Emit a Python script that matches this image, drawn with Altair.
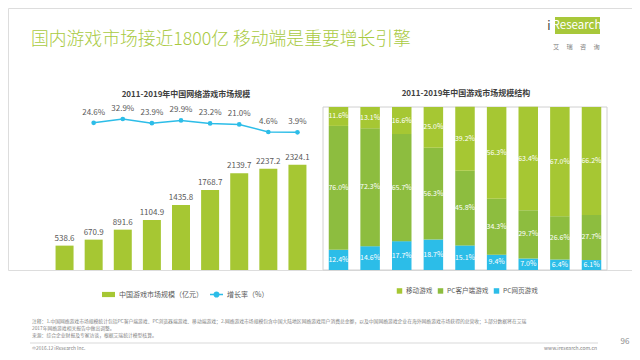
import altair as alt
import pandas as pd

# ---------------- data ----------------
years = ["2011", "2012", "2013", "2014", "2015", "2016e", "2017e", "2018e", "2019e"]
market_size = [538.6, 670.9, 891.6, 1104.9, 1435.8, 1768.7, 2139.7, 2237.2, 2324.1]
growth_years = ["2012", "2013", "2014", "2015", "2016e", "2017e", "2018e", "2019e"]
growth_rate = [24.6, 32.9, 23.9, 29.9, 23.2, 21.0, 4.6, 3.9]
mobile_share = [11.6, 13.1, 16.6, 25.0, 39.2, 56.3, 63.4, 67.0, 66.2]
pc_client_share = [76.0, 72.3, 65.7, 56.3, 45.8, 34.3, 29.7, 26.6, 27.7]
pc_web_share = [12.4, 14.6, 17.7, 18.7, 15.1, 9.4, 7.0, 6.4, 6.1]

size_name = "中国游戏市场规模（亿元）"
growth_name = "增长率（%）"
share_names = ["移动游戏", "PC客户端游戏", "PC网页游戏"]

main_title = "国内游戏市场接近1800亿 移动端是重要增长引擎"
left_title = "2011-2019年中国网络游戏市场规模"
right_title = "2011-2019年中国游戏市场规模结构"
notes = [
    "注释：1.中国网络游戏市场规模统计包括PC客户端游戏、PC浏览器端游戏、移动端游戏；2.网络游戏市场规模包含中国大陆地区网络游戏用户消费总金额，以及中国网络游戏企业在海外网络游戏市场获得的总营收；3.部分数据将在艾瑞",
    "2017年网络游戏相关报告中做出调整。",
    "来源：综合企业财报及专家访谈，根据艾瑞统计模型核算。",
]
copyright_text = "©2016.12 iResearch Inc."
site_text = "www.iresearch.com.cn"
page_no = "96"
logo_cn_chars = ["艾", "瑞", "咨", "询"]

FONT = "Noto Sans CJK SC"
GREEN = "#a9ca3f"
BAR_GREEN = "#a6c733"
CLIENT_GREEN = "#8dbd3f"
CYAN = "#2cbde8"
GREY = "#595959"

# ---------------- tables ----------------
size_df = pd.DataFrame({"year": years, "value": market_size, "series": size_name})
size_df["label"] = [f"{v:.1f}" for v in market_size]
growth_df = pd.DataFrame({"year": growth_years, "rate": growth_rate, "series": growth_name})
growth_df["label"] = [f"{v:.1f}%" for v in growth_rate]

rows = []
for i, y in enumerate(years):
    for order, (name, vals) in enumerate(
        [("PC网页游戏", pc_web_share), ("PC客户端游戏", pc_client_share), ("移动游戏", mobile_share)]
    ):
        rows.append({"year": y, "series": name, "share": vals[i], "order": order, "label": f"{vals[i]:.1f}%"})
share_df = pd.DataFrame(rows)

one = pd.DataFrame({"k": [0]})

# ---------------- left panel ----------------
axis_common = dict(title=None, orient="bottom", labelAngle=0, ticks=False, domainColor="#bfbfbf",
                   labelColor=GREY, labelFontSize=8, labelPadding=6, labelFont=FONT)

xl_scale = alt.Scale(range=[42, 304], paddingInner=0.38, paddingOuter=0.19)
xl = alt.X("year:N", sort=years, scale=xl_scale, axis=alt.Axis(**axis_common))
xl_noaxis = alt.X("year:N", sort=years, scale=xl_scale, axis=None)

ybar = alt.Y("value:Q", scale=alt.Scale(domain=[0, 5790]), axis=None)

bars = alt.Chart(size_df).mark_bar(size=18).encode(
    x=xl, y=ybar,
    color=alt.Color("series:N", scale=alt.Scale(domain=[size_name], range=[BAR_GREEN]),
                    legend=alt.Legend(title=None, orient="none", legendX=93, legendY=279,
                                      symbolType="M-1,-0.4H1V0.4H-1Z", symbolSize=169,
                                      labelFontSize=7, labelColor=GREY, labelFont=FONT,
                                      labelOffset=3)),
)
bar_text = alt.Chart(size_df).mark_text(baseline="bottom", dy=-3, fontSize=8, color=GREY, font=FONT).encode(
    x=xl_noaxis, y=ybar, text="label:N")

yline = alt.Y("rate:Q", scale=alt.Scale(domain=[-296, 274.7]), axis=None)
line = alt.Chart(growth_df).mark_line(strokeWidth=1.5, point=alt.OverlayMarkDef(size=22, filled=True)).encode(
    x=xl_noaxis, y=yline,
    color=alt.Color("series:N", scale=alt.Scale(domain=[growth_name], range=[CYAN]),
                    legend=alt.Legend(title=None, orient="none", legendX=201, legendY=279,
                                      symbolType="M-1,0H1M0.35,0A0.35,0.35,0,1,1,-0.35,0A0.35,0.35,0,1,1,0.35,0",
                                      symbolSize=169, symbolStrokeWidth=1.5, symbolFillColor=CYAN,
                                      labelFontSize=7, labelColor=GREY, labelFont=FONT, labelOffset=3)),
)
line_text = alt.Chart(growth_df).mark_text(baseline="bottom", dy=-6, fontSize=8, color=GREY, font=FONT).encode(
    x=xl_noaxis, y=yline, text="label:N")

left = alt.layer(bars, bar_text, line, line_text).resolve_scale(y="independent", color="independent")

# ---------------- right panel ----------------
xr_scale = alt.Scale(range=[315, 599], paddingInner=0.38, paddingOuter=0.18)
xr = alt.X("year:N", sort=years, scale=xr_scale, axis=alt.Axis(**axis_common))
yr_scale = alt.Scale(domain=[0, 160.74])

right_base = alt.Chart(share_df).transform_stack(
    stack="share", groupby=["year"], as_=["y0", "y1"], sort=[alt.SortField("order", "ascending")]
).transform_calculate(mid="(datum.y0 + datum.y1) / 2")

rbars = right_base.mark_bar(size=19.5).encode(
    x=xr,
    y=alt.Y("y0:Q", scale=yr_scale, axis=None), y2="y1:Q",
    color=alt.Color("series:N", scale=alt.Scale(domain=share_names, range=[BAR_GREEN, CLIENT_GREEN, CYAN]),
                    legend=alt.Legend(title=None, orient="none", direction="horizontal",
                                      legendX=388, legendY=279, symbolType="square", symbolSize=30,
                                      labelFontSize=6.6, labelColor=GREY, labelFont=FONT,
                                      columnPadding=4, labelOffset=3)),
)
rtext = right_base.mark_text(color="white", fontSize=7, font=FONT).encode(
    x=alt.X("year:N", sort=years, scale=xr_scale, axis=None),
    y=alt.Y("mid:Q", scale=yr_scale, axis=None), text="label:N")

frame = alt.Chart(one).mark_rect(fill="transparent", stroke="#d0d0d0", strokeWidth=1).encode(
    x=alt.value(315), x2=alt.value(599), y=alt.value(99), y2=alt.value(262))

right = alt.layer(frame, rbars, rtext)

# ---------------- decorations ----------------
def txt(text, x, y, size, color, align="left", weight="normal", baseline="middle"):
    return alt.Chart(one).mark_text(text=text, align=align, baseline=baseline, fontSize=size,
                                    color=color, font=FONT, fontWeight=weight).encode(
        x=alt.value(x), y=alt.value(y))

header = txt(main_title, 23, 32, 17.8, GREEN, weight=300)
ltitle = txt(left_title, 178, 87, 8, "#404040", align="center", weight="bold")
rtitle = txt(right_title, 458, 86, 8, "#404040", align="center", weight="bold")

logo_bg = alt.Chart(one).mark_rect(color="#a8c83a").encode(
    x=alt.value(547), x2=alt.value(592), y=alt.value(9), y2=alt.value(26))
logo_i = txt("i", 541, 18, 12, "#404040", align="center")
logo_r = txt("Research", 569, 18, 11.5, "white", align="center")
logo_cn = [txt(c, 548 + 13.5 * i, 39, 6.2, "#7f7f7f", align="center") for i, c in enumerate(logo_cn_chars)]

note_layers = [txt(t, 24, 314 + 7 * i, 4.8, "#7f7f7f") for i, t in enumerate(notes)]
sep = alt.Chart(one).mark_rule(color="#bfbfbf", strokeWidth=0.6).encode(
    x=alt.value(22), x2=alt.value(590), y=alt.value(335))
copy_t = txt(copyright_text, 24, 341, 4.8, "#7f7f7f")
site_t = txt(site_text, 589, 340, 5, "#7f7f7f", align="right")
page_t = txt(page_no, 617, 334, 8, "#8c8c8c", align="center")

chart = alt.layer(
    left, right, header, ltitle, rtitle, logo_bg, logo_i, logo_r, *logo_cn,
    *note_layers, sep, copy_t, site_t, page_t
).resolve_scale(x="independent", y="independent", color="independent").properties(
    width=624, height=262,
    autosize=alt.AutoSizeParams(type="none"),
    padding={"left": 0, "top": 0, "right": 0, "bottom": 82},
).configure_view(strokeWidth=0).configure(font=FONT)

chart.save("out.html", embed_options={"renderer": "svg", "actions": False})
